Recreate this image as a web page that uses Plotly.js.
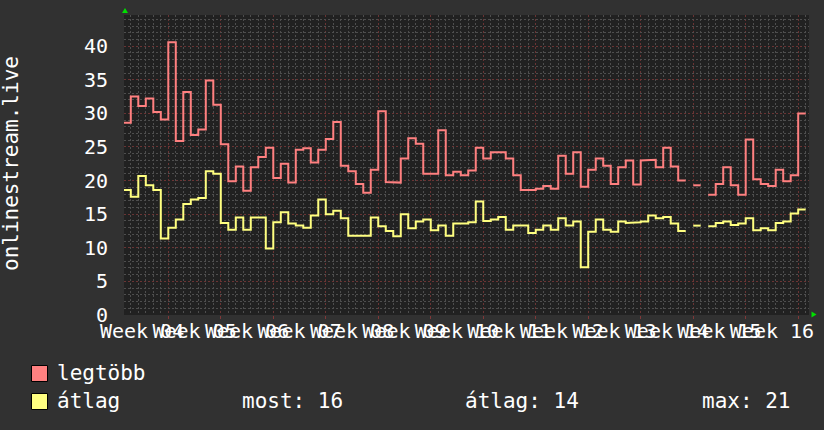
<!DOCTYPE html>
<html><head><meta charset="utf-8">
<script src="https://cdn.plot.ly/plotly-3.0.1.min.js"></script>
<style>html,body{margin:0;padding:0;background:#313131;}#chart{width:824px;height:430px;}</style>
</head><body><div id="chart"></div>
<script>
// ---- data ----
const firstDay = '2024-01-23';          // first daily sample
const firstMonday = '2024-01-22';       // start of Week 04
const xStart = '2024-01-23 02:14';
const xEnd = '2024-04-23 10:34';

const legtobb = [28.6,32.5,31.1,32.2,30.2,29.1,40.6,25.9,33.2,26.8,27.6,34.9,31.3,25.4,19.9,22.1,18.5,22.0,23.5,24.9,
  20.4,22.5,19.7,24.6,24.8,22.7,24.6,26.2,28.7,22.2,21.4,19.5,18.2,21.6,30.3,19.8,19.7,23.3,26.3,25.5,
  21.0,21.0,27.5,20.8,21.3,20.8,21.5,24.9,23.3,24.2,24.2,23.3,20.8,18.6,18.6,18.8,19.2,18.8,23.7,21.0,
  24.2,19.1,21.6,23.3,22.2,19.5,22.0,23.0,19.4,23.0,23.1,22.0,24.9,22.1,20.0,null,19.3,null,17.9,19.5,
  22.0,19.3,17.9,26.1,20.2,19.5,19.2,21.6,19.9,20.8,30.0];

const atlag = [18.6,17.6,20.7,19.3,18.6,11.4,13.0,14.2,16.5,17.2,17.4,21.4,21.0,13.7,12.7,14.5,12.7,14.5,14.5,9.9,
  13.8,15.3,13.6,13.3,13.0,14.8,17.2,15.0,15.5,14.4,11.8,11.8,11.8,14.5,13.2,12.5,11.7,15.0,12.9,13.9,
  14.2,12.6,13.3,11.8,13.6,13.6,13.8,16.9,14.0,14.2,14.6,12.7,13.3,13.3,12.2,12.7,13.3,12.7,14.4,13.3,
  13.9,7.1,12.4,14.2,12.7,12.4,13.9,13.7,13.8,13.9,14.8,14.4,14.6,13.6,12.5,null,13.3,null,13.2,13.7,
  13.9,13.4,13.6,14.4,12.6,12.9,12.6,13.7,13.9,15.1,15.7];

const weekLabels = ['Week 04','Week 05','Week 06','Week 07','Week 08','Week 09','Week 10',
  'Week 11','Week 12','Week 13','Week 14','Week 15','Week 16'];

const seriesNames = ['legtöbb','átlag'];
const seriesColors = ['#ff8080','#ffff80'];
const statNames = ['most','átlag','max'];
const statValues = [16,14,21];
const axisTitle = 'onlinestream.live';

// ---- helpers ----
const DAY = 86400000;
function shift(str, days){
  const t = Date.parse(str + 'T00:00:00Z') + days*DAY;
  return new Date(t).toISOString().slice(0,19).replace('T',' ');
}
function stepXY(vals){
  const xs=[], ys=[];
  vals.forEach((v,i)=>{ xs.push(shift(firstDay,i), shift(firstDay,i+1)); ys.push(v,v); });
  return {xs, ys};
}
const weekMids = [];
for(let k=0;k<weekLabels.length;k++){ weekMids.push(shift(firstMonday,7*k+3.5)); }
// daily grid positions that are not week starts
const dayGrid = [];
for(let d=-1; d<=legtobb.length+1; d++){ if(((d+1)%7+7)%7!==0) dayGrid.push(shift(firstDay,d)); }

// pixel -> paper helpers (plot area 124..809, 15..315)
const L=124, T=15, W=685, H=300;
const px = x => (x-L)/W;
const py = y => (T+H-y)/H;

const s1 = stepXY(legtobb), s2 = stepXY(atlag);
const traces = [
  {x:s1.xs, y:s1.ys, type:'scatter', mode:'lines', name:seriesNames[0], xaxis:'x', yaxis:'y',
   line:{color:seriesColors[0], width:2, shape:'linear'}, connectgaps:false, hoverinfo:'skip'},
  {x:s2.xs, y:s2.ys, type:'scatter', mode:'lines', name:seriesNames[1], xaxis:'x2', yaxis:'y',
   line:{color:seriesColors[1], width:2, shape:'linear'}, connectgaps:false, hoverinfo:'skip'}
];

const MONO = 'DejaVu Sans Mono';
const redGrid = '#6a3434';
const grayGrid = '#4e4e4e';

const tri = (pts) => 'M ' + pts.map(p=>px(p[0])+','+py(p[1])).join(' L ') + ' Z';

const layout = {
  width:824, height:430,
  margin:{l:124, r:15, t:15, b:115, pad:0},
  paper_bgcolor:'#313131', plot_bgcolor:'#212121',
  showlegend:false,
  font:{family:MONO, color:'#ffffff', size:20},
  xaxis:{type:'date', range:[xStart,xEnd], tickmode:'array', tickvals:weekMids, ticktext:weekLabels,
    tickangle:0, ticks:'', showgrid:false, ticklabelstandoff:2,
    tickfont:{family:MONO, size:20, color:'#ffffff'},
    zeroline:false, showline:false, fixedrange:true,
    minor:{tickmode:'linear', tick0:firstMonday, dtick:7*DAY, showgrid:true,
      gridcolor:redGrid, griddash:'2px,2px', gridwidth:1, ticks:'outside', ticklen:3, tickcolor:'#803838'}},
  xaxis2:{type:'date', overlaying:'x', anchor:'y', side:'bottom', range:[xStart,xEnd],
    tickmode:'array', tickvals:dayGrid, showticklabels:false, ticks:'',
    showgrid:true, gridcolor:grayGrid, griddash:'2px,2px', gridwidth:1,
    zeroline:false, showline:false, fixedrange:true},
  yaxis:{range:[0,44.64], tickmode:'linear', tick0:0, dtick:5,
    showgrid:true, gridcolor:redGrid, griddash:'2px,2px', gridwidth:1,
    zeroline:false, showline:false, ticks:'', ticklabelstandoff:15, fixedrange:true,
    tickfont:{family:MONO, size:20, color:'#ffffff'},
    minor:{tickmode:'linear', tick0:0, dtick:1, showgrid:true,
      gridcolor:grayGrid, griddash:'2px,2px', gridwidth:1}},
  annotations:[
    {text:axisTitle, xref:'paper', yref:'paper', x:px(11), y:py(164), textangle:-90,
     xanchor:'center', yanchor:'middle', showarrow:false, font:{family:MONO, size:21, color:'#ffffff'}},
    {text:seriesNames[0], xref:'paper', yref:'paper', x:px(55), y:py(373), xanchor:'left', yanchor:'middle',
     showarrow:false, font:{family:MONO, size:21, color:'#ffffff'}},
    {text:seriesNames[1], xref:'paper', yref:'paper', x:px(55), y:py(401), xanchor:'left', yanchor:'middle',
     showarrow:false, font:{family:MONO, size:21, color:'#ffffff'}},
    {text:statNames[0]+': '+statValues[0], xref:'paper', yref:'paper', x:px(240), y:py(401), xanchor:'left', yanchor:'middle',
     showarrow:false, font:{family:MONO, size:21, color:'#ffffff'}},
    {text:statNames[1]+': '+statValues[1], xref:'paper', yref:'paper', x:px(463), y:py(401), xanchor:'left', yanchor:'middle',
     showarrow:false, font:{family:MONO, size:21, color:'#ffffff'}},
    {text:statNames[2]+': '+statValues[2], xref:'paper', yref:'paper', x:px(700), y:py(401), xanchor:'left', yanchor:'middle',
     showarrow:false, font:{family:MONO, size:21, color:'#ffffff'}}
  ],
  shapes:[
    {type:'rect', xref:'paper', yref:'paper', x0:px(31.5), x1:px(47.5), y0:py(365.5), y1:py(381.5),
     fillcolor:seriesColors[0], line:{color:'#000000', width:1}},
    {type:'rect', xref:'paper', yref:'paper', x0:px(31.5), x1:px(47.5), y0:py(393.5), y1:py(409.5),
     fillcolor:seriesColors[1], line:{color:'#000000', width:1}},
    {type:'path', xref:'paper', yref:'paper', path:tri([[125,8],[122,13],[128,13]]),
     fillcolor:'#00e000', line:{color:'#00e000', width:0}},
    {type:'path', xref:'paper', yref:'paper', path:tri([[816.5,314.5],[811.5,311.5],[811.5,317.5]]),
     fillcolor:'#00e000', line:{color:'#00e000', width:0}}
  ]
};

Plotly.newPlot('chart', traces, layout, {displayModeBar:false, staticPlot:true});
</script>
</body></html>
